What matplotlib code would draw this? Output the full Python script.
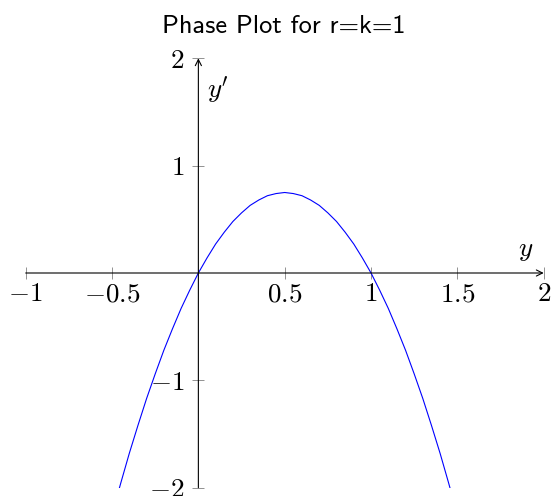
import os

import matplotlib

matplotlib.use("Agg")
import matplotlib.pyplot as plt
from matplotlib.font_manager import FontProperties

plt.rcParams["mathtext.fontset"] = "cm"
plt.rcParams["font.family"] = "serif"
plt.rcParams["font.serif"] = ["cmr10"]
plt.rcParams["axes.formatter.use_mathtext"] = True

# phase curve y' against y, sampled every 0.05
Y = [-0.50, -0.45, -0.40, -0.35, -0.30, -0.25, -0.20, -0.15, -0.10, -0.05,
     0.00, 0.05, 0.10, 0.15, 0.20, 0.25, 0.30, 0.35, 0.40, 0.45,
     0.50, 0.55, 0.60, 0.65, 0.70, 0.75, 0.80, 0.85, 0.90, 0.95,
     1.00, 1.05, 1.10, 1.15, 1.20, 1.25, 1.30, 1.35, 1.40, 1.45, 1.50]
DY = [-2.25, -1.96, -1.68, -1.42, -1.17, -0.94, -0.72, -0.52, -0.33, -0.16,
      0.00, 0.14, 0.27, 0.38, 0.48, 0.56, 0.63, 0.68, 0.72, 0.74,
      0.75, 0.74, 0.72, 0.68, 0.63, 0.56, 0.48, 0.38, 0.27, 0.14,
      0.00, -0.16, -0.33, -0.52, -0.72, -0.94, -1.17, -1.42, -1.68, -1.96, -2.25]

XTICKS = [-1, -0.5, 0.5, 1, 1.5, 2]
XTICKLABELS = ["$-1$", "$-0.5$", "$0.5$", "$1$", "$1.5$", "$2$"]
YTICKS = [-2, -1, 1, 2]
YTICKLABELS = ["$-2$", "$-1$", "$1$", "$2$"]

TITLE = "Phase Plot for r=k=1"
SANS = FontProperties(fname=os.path.join(matplotlib.get_data_path(), "fonts", "ttf", "cmss10.ttf"))

W, H = 551, 496
fig = plt.figure(figsize=(W / 100, H / 100), dpi=100)
x0, x1, y_top, y_bot = 25.7, 543.7, 58.3, 487.7
ax = fig.add_axes([x0 / W, 1 - y_bot / H, (x1 - x0) / W, (y_bot - y_top) / H])
ax.set_xlim(-1, 2)
ax.set_ylim(-2, 2)

ax.plot(Y, DY, color="blue", lw=0.8)

# axis lines through the origin, with arrow heads
for s in ax.spines.values():
    s.set_visible(False)
arrow = dict(arrowstyle="->", lw=0.8, color="black",
             shrinkA=0, shrinkB=0, mutation_scale=11)
ax.annotate("", xy=(2, 0), xytext=(-1, 0), arrowprops=arrow, annotation_clip=False)
ax.annotate("", xy=(0, 2), xytext=(0, -2), arrowprops=arrow, annotation_clip=False)

ax.spines["bottom"].set_position(("data", 0))
ax.spines["left"].set_position(("data", 0))
ax.set_xticks(XTICKS)
ax.set_xticklabels(XTICKLABELS)
ax.set_yticks(YTICKS)
ax.set_yticklabels(YTICKLABELS)
ax.tick_params(direction="inout", length=8, width=0.5, color="0.4",
               labelsize=19.5, pad=3)
ax.tick_params(axis="y", pad=6)

ax.text(1.94, 0.09, "$y$", fontsize=19.5, ha="right", va="bottom")
ax.text(0.05, 1.85, "$y'$", fontsize=19.5, ha="left", va="top")

fig.text(284 / W, 1 - 33 / H, TITLE, fontproperties=SANS, fontsize=19,
         ha="center", va="baseline")

fig.savefig("out.png", dpi=100)
